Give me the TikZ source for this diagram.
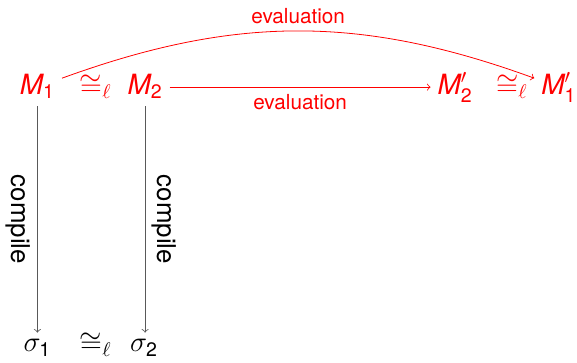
\documentclass[tikz,border=0pt]{standalone}
\usepackage{amsmath}
\usepackage{fontspec}
\setmainfont{TeX Gyre Heros}
\begin{document}
\begin{tikzpicture}[
  term/.style={anchor=base, font=\fontsize{14}{16}\selectfont, text height=9.5pt, text depth=2.5pt},
  code/.style={anchor=base, font=\fontsize{14}{16}\selectfont},
  rel/.style={inner sep=0pt},
  evalarrow/.style={->, red},
  compilearrow/.style={->, black!65},
  evallabel/.style={font=\fontsize{10.4}{12}\selectfont, text=red},
  compilelabel/.style={font=\fontsize{13}{15}\selectfont, text=black},
]
\useasboundingbox (0,0) rectangle (10.18,-6.40);

% top row: programs and their results
\node[term, text=red] (M1) at (0.66,-1.66) {$\mathit{M}_{\text{1}}$};
\node[term, rel, text=red] (eqA) at (1.69,-1.66) {$\cong_\ell$};
\node[term, text=red] (M2) at (2.56,-1.66) {$\mathit{M}_{\text{2}}$};
\node[term, text=red] (M2p) at (8.03,-1.66) {$\mathit{M}'_{\text{2}}$};
\node[term, rel, text=red] (eqB) at (9.03,-1.66) {$\cong_\ell$};
\node[term, text=red] (M1p) at (9.86,-1.66) {$\mathit{M}'_{\text{1}}$};

% bottom row: compiled code
\node[code] (s1) at (0.66,-6.21) {$\sigma_{\text{1}}$};
\node[code, rel] (eqC) at (1.69,-6.21) {$\cong_\ell$};
\node[code] (s2) at (2.54,-6.21) {$\sigma_{\text{2}}$};

% evaluation arrows
\draw[evalarrow] (M2) -- (M2p) node[midway, below, evallabel] {evaluation};
\draw[evalarrow] (M1) to[bend left=20] node[midway, above, evallabel] {evaluation} (M1p);

% compile arrows
\draw[compilearrow] (M1.south) -- (M1.south |- s1.north) node[midway, sloped, below, compilelabel] {compile};
\draw[compilearrow] (M2.south) -- (M2.south |- s2.north) node[midway, sloped, above, compilelabel] {compile};
\end{tikzpicture}
\end{document}
